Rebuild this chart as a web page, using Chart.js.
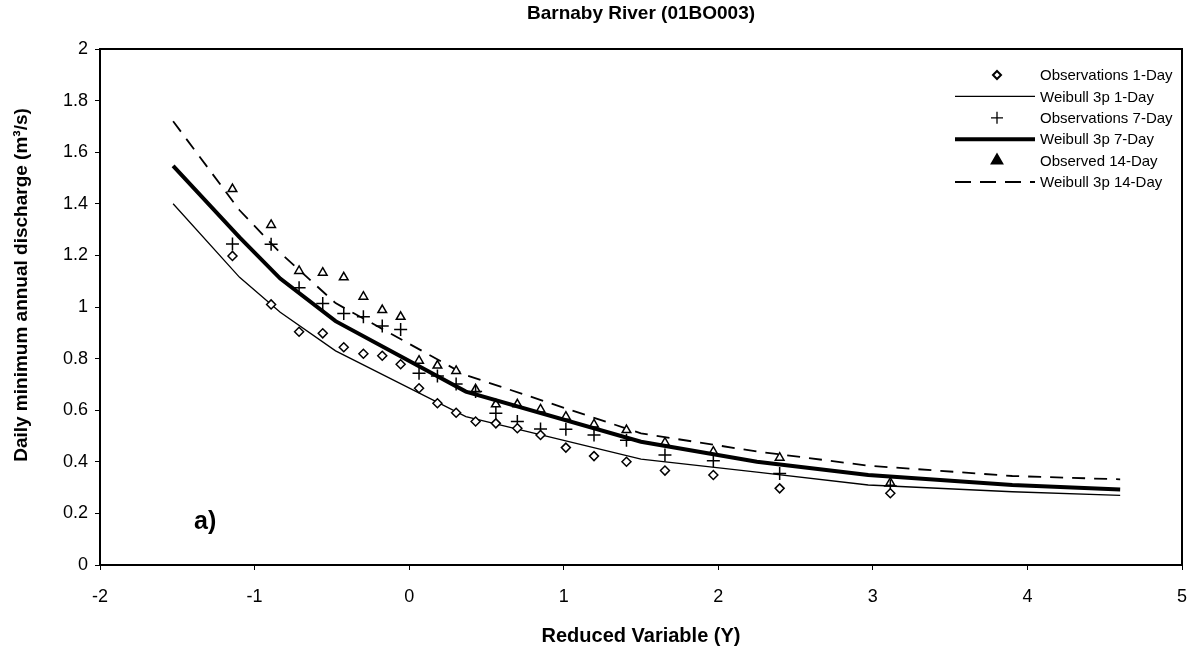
<!DOCTYPE html>
<html>
<head>
<meta charset="utf-8">
<script src="https://cdn.jsdelivr.net/npm/chart.js@4.4.1/dist/chart.umd.min.js"></script>
<style>
  html, body { margin: 0; padding: 0; background: #fff; }
  #wrap { width: 1195px; height: 654px; }
</style>
</head>
<body>
<div id="wrap"><canvas id="chart" width="1195" height="654"></canvas></div>
<script>
// reduced variable of each observation (plotting positions)
const reducedY = [-1.143, -0.893, -0.712, -0.559, -0.423, -0.296, -0.174, -0.055, 0.064, 0.183, 0.304,
                  0.430, 0.561, 0.700, 0.850, 1.014, 1.196, 1.406, 1.655, 1.968, 2.397, 3.113];
const obs1Day  = [1.198, 1.010, 0.904, 0.898, 0.844, 0.819, 0.811, 0.778, 0.685, 0.627, 0.590,
                  0.556, 0.549, 0.530, 0.504, 0.455, 0.422, 0.400, 0.366, 0.349, 0.297, 0.278];
const obs7Day  = [1.244, 1.243, 1.075, 1.014, 0.975, 0.962, 0.926, 0.913, 0.743, 0.733, 0.702,
                  0.672, 0.588, 0.556, 0.527, 0.526, 0.504, 0.484, 0.426, 0.404, 0.355, 0.306];
const obs14Day = [1.457, 1.318, 1.140, 1.133, 1.115, 1.040, 0.988, 0.962, 0.792, 0.773, 0.752,
                  0.681, 0.623, 0.623, 0.603, 0.575, 0.545, 0.523, 0.474, 0.439, 0.416, 0.319];

// fitted Weibull 3p curves
const curveY       = [-1.527, -1.097, -0.834, -0.476, 0.367, 1.500, 2.250, 2.970, 3.902, 4.600];
const weibull1Day  = [1.400, 1.115, 0.980, 0.830, 0.575, 0.410, 0.360, 0.310, 0.284, 0.270];
const weibull7Day  = [1.547, 1.270, 1.110, 0.945, 0.672, 0.478, 0.400, 0.349, 0.310, 0.293];
const weibull14Day = [1.720, 1.375, 1.210, 1.015, 0.736, 0.510, 0.440, 0.385, 0.345, 0.332];

const xTicks = [-2, -1, 0, 1, 2, 3, 4, 5];
const yTicks = ['0', '0.2', '0.4', '0.6', '0.8', '1', '1.2', '1.4', '1.6', '1.8', '2'];

const FONT = '"Liberation Sans", Arial, sans-serif';

const pts = (xs, ys) => xs.map((x, i) => ({ x: x, y: ys[i] }));

function obsSet(label, ys, style, r) {
    return {
        label: label,
        data: pts(reducedY, ys),
        showLine: false,
        pointStyle: style,
        pointRadius: r,
        pointBackgroundColor: '#fff',
        pointBorderColor: '#000',
        pointBorderWidth: 1.5
    };
}

function lineSet(label, ys, width, dash) {
    return {
        label: label,
        data: pts(curveY, ys),
        showLine: true,
        borderColor: '#000',
        borderWidth: width,
        borderDash: dash,
        pointRadius: 0,
        tension: 0
    };
}

const datasets = [
    obsSet('Observations 1-Day', obs1Day, 'rectRot', 4.5),
    lineSet('Weibull 3p 1-Day', weibull1Day, 1.3, []),
    obsSet('Observations 7-Day', obs7Day, 'cross', 6.5),
    lineSet('Weibull 3p 7-Day', weibull7Day, 4, []),
    obsSet('Observed 14-Day', obs14Day, 'triangle', 5),
    lineSet('Weibull 3p 14-Day', weibull14Day, 1.8, [13, 9])
];

// frame, titles, "a)" label and the legend inside the plot
const decorations = {
    id: 'decorations',
    afterDraw(chart) {
        const ctx = chart.ctx;
        const a = chart.chartArea;
        const xs = chart.scales.x, ys = chart.scales.y;
        ctx.save();
        ctx.strokeStyle = '#000';
        ctx.lineWidth = 2;
        ctx.strokeRect(a.left, a.top, a.right - a.left, a.bottom - a.top);

        ctx.fillStyle = '#000';
        ctx.font = 'bold 19px ' + FONT;
        ctx.textAlign = 'center';
        ctx.textBaseline = 'middle';
        ctx.fillText('Barnaby River (01BO003)', (a.left + a.right) / 2, 14);

        // y axis title (sits a little above the plot centre, as in the original)
        ctx.save();
        ctx.translate(22, 285);
        ctx.rotate(-Math.PI / 2);
        ctx.fillText('Daily minimum annual discharge (m³/s)', 0, 0);
        ctx.restore();

        ctx.font = 'bold 25px ' + FONT;
        ctx.fillText('a)', xs.getPixelForValue(-1.32), ys.getPixelForValue(0.167));

        // legend
        const x0 = 955, x1 = 1035, xm = 997, tx = 1040;
        let y = 75;
        const step = 21.4;
        ctx.font = '15px ' + FONT;
        ctx.textAlign = 'left';
        datasets.forEach(ds => {
            ctx.strokeStyle = '#000';
            ctx.fillStyle = '#fff';
            if (ds.showLine) {
                ctx.lineWidth = ds.borderWidth;
                ctx.setLineDash(ds.borderDash.length ? [16, 9] : []);
                ctx.beginPath();
                ctx.moveTo(x0, y);
                ctx.lineTo(x1, y);
                ctx.stroke();
                ctx.setLineDash([]);
            } else {
                Chart.helpers.drawPoint(ctx, {
                    pointStyle: ds.pointStyle,
                    radius: ds.pointStyle === 'cross' ? 6 : 4,
                    borderWidth: 1.5,
                    rotation: 0
                }, xm, y);
            }
            ctx.fillStyle = '#000';
            ctx.fillText(ds.label, tx, y + 1);
            y += step;
        });
        ctx.restore();
    }
};

new Chart(document.getElementById('chart'), {
    type: 'scatter',
    data: { datasets: datasets },
    options: {
        responsive: false,
        animation: false,
        layout: { padding: { top: 49, right: 13, left: 0, bottom: 0 } },
        plugins: {
            legend: { display: false },
            tooltip: { enabled: false }
        },
        scales: {
            x: {
                type: 'linear',
                min: xTicks[0],
                max: xTicks[xTicks.length - 1],
                afterFit: s => { s.height = 89; s.paddingLeft = 0; s.paddingRight = 0; },
                afterBuildTicks: s => { s.ticks = xTicks.map(v => ({ value: v })); },
                ticks: {
                    color: '#000',
                    font: { family: FONT, size: 18 },
                    padding: 16,
                    callback: v => String(v)
                },
                grid: { drawOnChartArea: false, color: '#000', tickLength: 5, lineWidth: 1 },
                border: { display: true, color: '#000', width: 2 },
                title: {
                    display: true,
                    text: 'Reduced Variable (Y)',
                    color: '#000',
                    font: { family: FONT, size: 20, weight: 'bold' },
                    padding: { top: 0, bottom: 6 }
                }
            },
            y: {
                type: 'linear',
                min: 0,
                max: 2,
                afterFit: s => { s.width = 100; s.paddingTop = 0; s.paddingBottom = 0; },
                afterBuildTicks: s => { s.ticks = yTicks.map(t => ({ value: parseFloat(t) })); },
                ticks: {
                    color: '#000',
                    font: { family: FONT, size: 18 },
                    padding: 7,
                    callback: (v, i) => yTicks[i]
                },
                grid: { drawOnChartArea: false, color: '#000', tickLength: 5, lineWidth: 1 },
                border: { display: true, color: '#000', width: 2 },
                title: { display: false }
            }
        }
    },
    plugins: [decorations]
});
</script>
</body>
</html>
